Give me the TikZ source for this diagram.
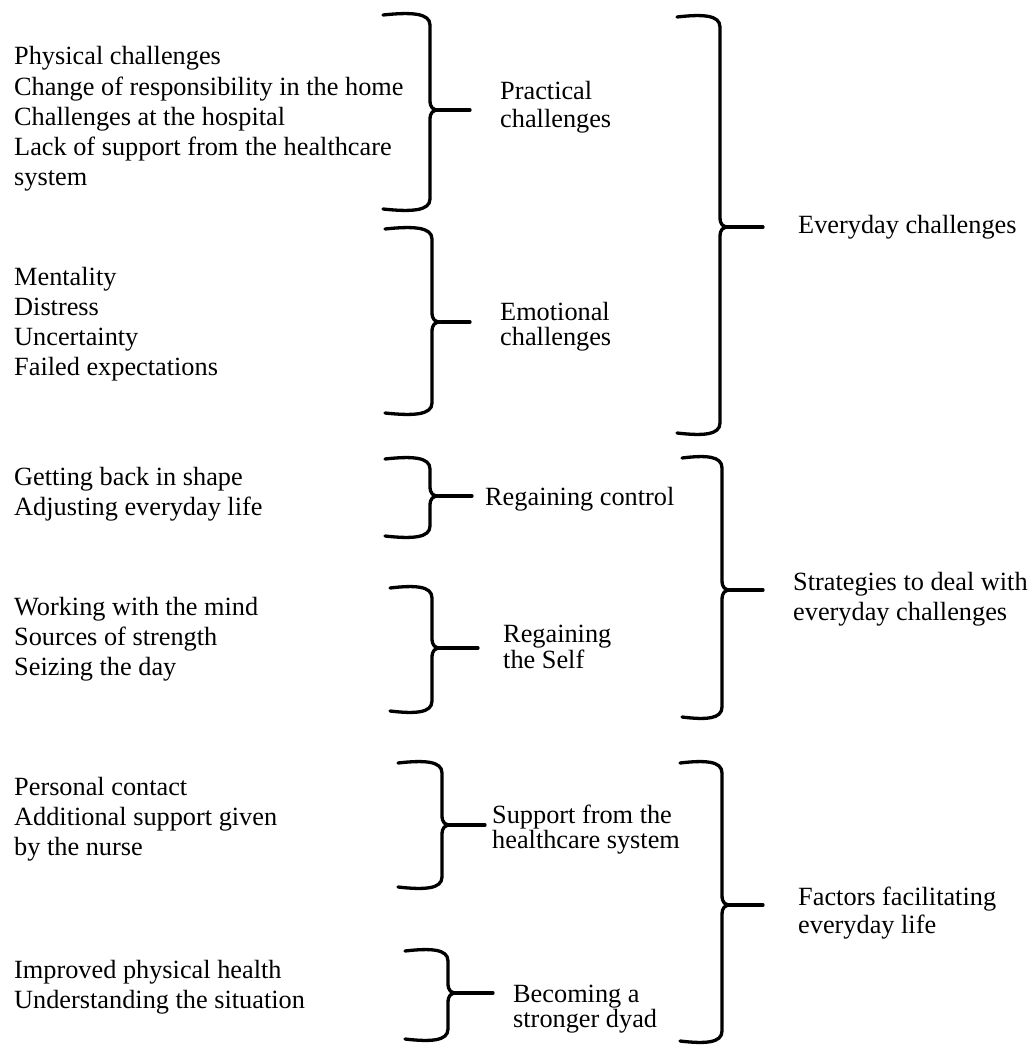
\documentclass[tikz,border=0pt]{standalone}
\usepackage{fontspec}
\setmainfont{Liberation Serif}
\begin{document}
\begin{tikzpicture}[x=1pt,y=-1pt]
\tikzset{
  item/.style={anchor=base west, inner sep=0pt, align=left, font=\fontsize{26.3}{30}\selectfont},
  lab/.style={anchor=base west, inner sep=0pt, align=left, font=\fontsize{26.3}{#1}\selectfont},
  lab/.default=26,
  brc/.style={line width=3.3pt, line cap=round, line join=round, black},
}
% \cbrace{left}{vertical x}{top}{mid}{bottom}{tip x}{name}
\newcommand\cbrace[7]{%
  \coordinate (#7-cusp) at ({#2+9},#4);
  \coordinate (#7-tip) at (#6,#4);
  \draw[brc] (#1,{#3+1}) .. controls ({#1+0.6*(#2-#1)},{#3-2}) and (#2,{#3-1}) .. (#2,{#3+11})
    -- (#2,{#4-10}) .. controls (#2,{#4-2}) and ({#2+3},#4) .. (#7-cusp)
    .. controls ({#2+3},#4) and (#2,{#4+2}) .. (#2,{#4+10})
    -- (#2,{#5-11}) .. controls (#2,{#5+1}) and ({#1+0.6*(#2-#1)},{#5+2}) .. (#1,{#5-1});
  \draw[brc] (#7-cusp) -- (#7-tip);
}
\useasboundingbox (0,0) rectangle (1028,1046);

% left items (anchor = baseline of the last line)
\node[item] (i1) at (14,185) {Physical challenges\\Change of responsibility in the home\\Challenges at the hospital\\Lack of support from the healthcare\\system};
\node[item] (i2) at (14,375) {Mentality\\Distress\\Uncertainty\\Failed expectations};
\node[item] (i3) at (14,515) {Getting back in shape\\Adjusting everyday life};
\node[item] (i4) at (14,675) {Working with the mind\\Sources of strength\\Seizing the day};
\node[item] (i5) at (14,855) {Personal contact\\Additional support given\\by the nurse};
\node[item] (i6) at (14,1008) {Improved physical health\\Understanding the situation};

% small braces
\cbrace{383}{430}{14}{110}{210}{470}{b1}
\cbrace{385}{432}{228}{322}{414}{470}{b2}
\cbrace{385}{430}{458}{496}{537}{472}{b3}
\cbrace{390}{432}{587}{648}{712}{478}{b4}
\cbrace{398}{442}{762}{825}{888}{485}{b5}
\cbrace{405}{448}{950}{993}{1040}{493}{b6}

% big braces
\cbrace{677}{720}{16}{227}{434}{763}{B1}
\cbrace{682}{722}{457}{590}{718}{763}{B2}
\cbrace{680}{722}{762}{905}{1042}{763}{B3}

% middle labels
\node[lab=28] (l1) at (500,128) {Practical\\challenges};
\node[lab=25] (l2) at (500,345) {Emotional\\challenges};
\node[lab] (l3) at (485,505) {Regaining control};
\node[lab=26] (l4) at (503,668) {Regaining\\the Self};
\node[lab=25] (l5) at (492,848) {Support from the\\healthcare system};
\node[lab=25] (l6) at (513,1027) {Becoming a\\stronger dyad};

% right labels
\node[lab] (r1) at (798,233) {Everyday challenges};
\node[lab=30] (r2) at (793,620) {Strategies to deal with\\everyday challenges};
\node[lab=28] (r3) at (798,933) {Factors facilitating\\everyday life};
\end{tikzpicture}
\end{document}
